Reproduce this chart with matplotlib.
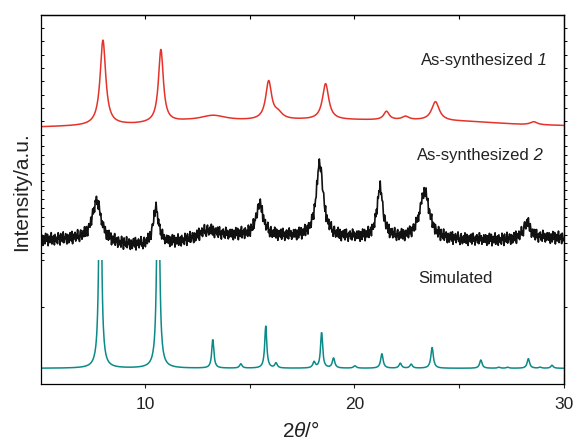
#!/usr/bin/env python3

import numpy as np
import matplotlib
matplotlib.use("Agg")
import matplotlib.pyplot as plt
from matplotlib.patches import Rectangle

plt.rcParams['font.family'] = ['Liberation Sans', 'DejaVu Sans']
plt.rcParams['mathtext.fontset'] = 'custom'
plt.rcParams['mathtext.rm'] = 'Liberation Sans'
plt.rcParams['mathtext.it'] = 'Liberation Sans:italic'

# Peak lists: position (2theta), height, half width (a.u.)
red_pos = [7.98, 10.75, 13.24, 15.90, 16.35, 18.62, 21.53, 22.44, 23.87, 28.57]
red_height = [85, 73, 5.5, 38, 6, 36, 8.5, 3.5, 19, 3]
red_hw = [0.16, 0.14, 0.75, 0.17, 0.25, 0.18, 0.16, 0.20, 0.22, 0.20]
red_base_x = [5, 7, 9.5, 12, 14.5, 17.5, 20, 23, 25.5, 28, 30]
red_base_y = [257, 258, 259.5, 262.5, 263, 264, 264, 263.5, 262.5, 259.5, 258.5]

black_pos = [7.68, 10.51, 13.0, 15.47, 18.34, 21.22, 23.35, 28.25]
black_height = [40, 36, 9, 32, 74, 50, 48, 16]
black_hw = [0.25, 0.16, 0.6, 0.2, 0.2, 0.17, 0.27, 0.2]
black_base_x = [5, 7, 9, 10, 12, 14.5, 17.5, 20, 22.5, 25, 27, 29, 30]
black_base_y = [144, 145, 139, 138, 142, 148, 147, 146, 145, 144, 144, 146, 146]
# hand-read wiggle of the noisy trace
black_jitter = [2.0, -3.0, 4.5, -1.5, -6.0, 3.5, 0.5, -4.5, 6.0, -2.0, -0.5, 5.0,
                -6.5, 1.5, 3.0, -3.5, 0.0, 6.5, -5.0, 2.0, -1.5, 3.5, -6.0, 4.5,
                0.5, -3.0, 1.5, -5.0, 6.0, -0.5, 3.0, -6.5, 5.0, -2.0, 0.5, -3.5,
                6.5, -4.5, 1.5, -0.5, 4.5, -3.0, -6.0, 3.5, 2.0, -5.0, 0.0, 5.0,
                -1.5, -3.5, 6.0, -6.5, 3.0, 0.5, -2.0, 4.5, -4.5, 2.0, -0.5, 6.5,
                -3.0, 0.0, -6.0, 3.5, 5.0, -2.0, -5.0, 1.5, 3.0, -3.5, 6.0, -0.5,
                -4.5, 4.5, 0.5, -6.5, 2.0, 3.5, -1.5, -3.0, 5.0, -5.0, 0.0, 6.0,
                -2.0, 1.5, -6.0, 3.0, -0.5, 4.5, -3.5, 2.0, -4.5, 6.5, 0.5, -1.5,
                3.5, -5.0, 1.5, -3.0, 4.5]

sim_pos = [7.85, 10.62, 13.23, 14.57, 15.76, 16.25, 18.07, 18.43, 19.00, 20.02,
           21.31, 22.19, 22.71, 23.71, 26.04, 26.90, 27.32, 28.31, 28.87, 29.44]
sim_height = [300, 300, 29, 4.3, 42, 5, 6, 36, 10, 2.3,
              14.6, 5, 4, 21, 8.3, 1, 1, 9.7, 1, 3]
sim_hw = [0.06, 0.06, 0.06, 0.07, 0.06, 0.07, 0.07, 0.06, 0.07, 0.08,
          0.07, 0.07, 0.07, 0.07, 0.07, 0.07, 0.07, 0.07, 0.07, 0.07]
sim_base = 15.7
sim_cap = 124

ytick_pos = [356, 342.7, 329.3, 316, 302.7, 289.3, 276, 262.7, 249.3, 238, 229,
             220, 211.3, 202.7, 194, 185, 176, 167, 158, 149.3, 140.7, 131.3,
             124, 77]


def profile(x, pos, height, hw):
    """
    Sum of Lorentzian peaks
    """
    y = np.zeros_like(x)
    for p, h, w in zip(pos, height, hw):
        y += h * w ** 2 / ((x - p) ** 2 + w ** 2)
    return y


def label(ax, x, y, text, num):
    """
    Upright text followed by an italic sample number
    """
    t = ax.text(x, y, text, fontsize=12, va='baseline', ha='left', color='#222222')
    ax.annotate(' ' + num, xy=(1, 0), xycoords=t, va='bottom', ha='left',
                fontsize=12, style='italic', color='#222222')


def main():
    x = np.arange(5, 30.0001, 0.02)
    xb = np.arange(5, 30.0001, 0.03)

    red = np.interp(x, red_base_x, red_base_y) + profile(x, red_pos, red_height, red_hw)
    black = (np.interp(xb, black_base_x, black_base_y)
             + profile(xb, black_pos, black_height, black_hw)
             + np.resize(black_jitter, xb.size))
    sim = sim_base + profile(x, sim_pos, sim_height, sim_hw)

    fig = plt.figure(figsize=(5.74, 4.42), dpi=100)
    ax = fig.add_axes([0.0707, 0.1312, 0.9114, 0.8355])

    ax.plot(x, red, color='#e5332a', lw=1.1)
    ax.plot(xb, black, color='#111111', lw=1.2)
    line, = ax.plot(x, sim, color='#0b8a88', lw=1.1)
    clip = Rectangle((5, 0), 25, sim_cap, transform=ax.transData)
    line.set_clip_path(clip)

    ax.set_xlim(5, 30)
    ax.set_ylim(0, 369.3)

    ax.set_xticks([10, 20, 30])
    ax.set_xticks([15, 25], minor=True)
    ax.tick_params(axis='x', which='both', direction='out', length=3, width=0.8,
                   labelsize=12.5, pad=6, colors='#222222')
    ax.set_yticks(ytick_pos)
    ax.set_yticklabels([])
    ax.tick_params(axis='y', direction='in', length=2.5, width=0.7)

    top = ax.secondary_xaxis('top')
    top.set_xticks([10, 15, 20, 25])
    top.set_xticklabels([])
    top.tick_params(direction='in', length=3, width=0.8)

    right = ax.secondary_yaxis('right')
    right.set_yticks(ytick_pos)
    right.set_yticklabels([])
    right.tick_params(direction='out', length=2, width=0.7)

    for a in (ax, top, right):
        for s in a.spines.values():
            s.set_linewidth(0.9)

    label(ax, 23.16, 319, 'As-synthesized', '1')
    label(ax, 22.97, 224, 'As-synthesized', '2')
    ax.text(23.06, 101, 'Simulated', fontsize=12,
            va='baseline', ha='left', color='#222222')

    fig.text(22 / 574, 1 - 192 / 442, 'Intensity/a.u.', rotation=90,
             fontsize=15, ha='center', va='center', color='#222222')
    fig.text(301 / 574, 1 - 431 / 442, r'2$\mathit{\theta}$/°',
             fontsize=15, ha='center', va='center', color='#222222')

    fig.savefig('out.png', dpi=100)


if __name__ == "__main__":
    main()
